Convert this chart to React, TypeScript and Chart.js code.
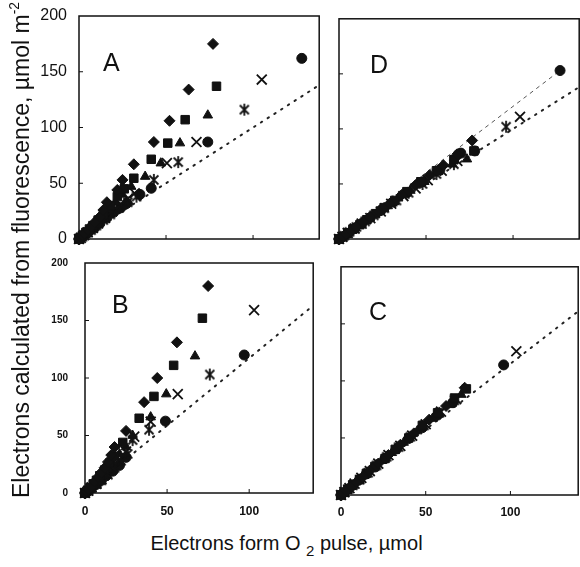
import React, { useEffect, useRef } from "react";
import { Chart, registerables } from "chart.js";
Chart.register(...registerables);

type P = [number, number];

// ---- tick values ----
const X_TICKS = [0, 50, 100];
const Y_TICKS = [0, 50, 100, 150, 200];

// ---- Panel A ----
const A_diamond: P[] = [[0,0],[1,1.5],[2,3],[3,5],[5,8],[7,11],[9,15],[12,20],[14,26],[16,33],[22,44],[25,53],[31.5,67],[43,87],[52,106],[63,134],[77,175]];
const A_square: P[] = [[0,0],[1,1.4],[2,3],[4,6],[6,9],[8,12],[11,17],[14,22],[18,30],[22,38],[26,45],[31.5,54.5],[41.5,71.5],[51,86],[61,107],[79,137]];
const A_triangle: P[] = [[0,0],[1,1.3],[3,4],[5,7],[7,10],[10,14],[13,19],[17,26],[21,33],[25,40],[30,47],[38,56],[47,68],[58,86],[74,111]];
const A_cross: P[] = [[0,0],[1,1],[3,3.5],[5,6],[8,10],[11,14],[15,19],[19,25],[24,31],[28,36],[32,41],[50.5,68],[67.5,87],[105,143]];
const A_star: P[] = [[0,0],[2,2],[4,5],[7,8],[10,12],[14,17],[18,22],[23,28],[28,33],[33,38],[43,53],[57,69],[95,116]];
const A_circle: P[] = [[0,0],[2,2],[4,4.5],[6,7],[9,10],[12,14],[16,19],[20,24],[24,28],[27.5,32],[35,40],[41.5,45.5],[74,87],[128,162]];
const A_ref: P[] = [[0,0],[138,138]];

// ---- Panel B ----
const B_diamond: P[] = [[0,0],[1,1.5],[2,3],[4,6],[6,10],[8,14],[10,18],[12,22],[14,27],[16,33],[18,40],[25,54],[36,79],[44,100],[56,131],[75,180]];
const B_square: P[] = [[0,0],[1,1.4],[3,4.5],[5,8],[7,11],[9,15],[12,20],[15,26],[18,32],[23,44],[33,65],[42,84],[54,111],[71.5,152]];
const B_triangle: P[] = [[0,0],[1,1.3],[3,4],[5,7],[8,11],[11,16],[14,21],[17,27],[21,34],[25,40],[29,50],[40,66],[49.5,86],[67,119]];
const B_cross: P[] = [[0,0],[2,2],[4,5],[7,8],[10,12],[13,17],[17,22],[21,29],[25,36],[30,49],[40,62],[56.5,86],[103,159]];
const B_star: P[] = [[0,0],[2,2],[4,4.5],[7,8],[10,11],[14,16],[18,22],[22,28],[26,34],[29,46],[39,55],[76,103]];
const B_circle: P[] = [[0,0],[2,2],[4,4],[7,7.5],[10,11],[13,15],[17,19],[21,24],[25,31],[49,62.5],[97,120]];
const B_ref: P[] = [[0,0],[139,163]];

// ---- Panel C ----
const C_diamond: P[] = [[0,0],[1,1.5],[3,4],[6,7.5],[9,11],[13,16],[17,21.5],[22,27.5],[28,35],[35,44],[43,54],[52,66],[62,78],[73,94]];
const C_square: P[] = [[0,0],[2,2.5],[4,5],[7,9],[11,13.5],[15,19],[20,25],[26,32],[32,40],[40,50],[48,61],[57,72],[67,85],[74,93]];
const C_triangle: P[] = [[0,0],[1,1.2],[3,3.8],[6,7.5],[10,12.5],[14,17.5],[19,23.5],[24,30],[30,37],[37,46],[45,56],[54,67],[64,79],[71,88]];
const C_cross: P[] = [[0,0],[2,2.5],[5,6],[8,10],[12,15],[17,21],[22,27.5],[28,35],[35,43],[42,52],[50,62],[59,73],[68,84],[103.5,126]];
const C_star: P[] = [[0,0],[2,2.4],[4,5],[7,8.5],[11,13.5],[16,19.5],[21,26],[27,33.5],[34,42],[41,51],[49,61],[58,72],[67,83]];
const C_circle: P[] = [[0,0],[1,1.3],[4,5],[7,8.5],[11,13.5],[15,18.5],[20,24.5],[26,32],[33,40.5],[40,49.5],[48,59],[57,70],[66,81],[96,114]];
const C_ref: P[] = [[0,0],[140,161]];

// ---- Panel D ----
const D_diamond: P[] = [[0,0],[2,2],[4,4.5],[7,7.5],[10,11],[14,15.5],[18,20],[23,25],[29,32],[36,40],[44,49],[52,58],[60,67],[68,77],[76.5,89.5]];
const D_square: P[] = [[0,0],[2,2],[5,5.5],[8,9],[12,13],[16,17.5],[21,23],[26,28.5],[32,35],[39,43],[47,52],[56,62],[66,72],[77.5,80]];
const D_triangle: P[] = [[0,0],[1,1],[3,3.5],[6,6.5],[9,10],[13,14],[17,18.5],[22,24],[28,30],[34,37],[41,44],[49,52],[57,61],[65,68],[73.5,72.5]];
const D_cross: P[] = [[0,0],[2,2],[5,5.5],[9,9.5],[13,14],[18,19],[24,25],[30,32],[37,39],[44,46],[51,53.5],[59,62],[68,71],[104,111]];
const D_star: P[] = [[0,0],[3,3],[6,6.5],[10,11],[15,16],[20,21.5],[26,28],[33,35],[40,42],[48,50],[56,59],[66,68],[96,102]];
const D_circle: P[] = [[0,0],[2,2],[5,5],[9,9.5],[13,14],[18,19.5],[24,26],[31,33.5],[39,42],[48,52],[58,63],[70,78],[78,80],[127,153]];
const D_ref: P[] = [[0,0],[138,138]];
const D_fit: P[] = [[0,0],[127,153]];

const INK = "#111";

function makeAsterisk(): HTMLCanvasElement {
  const c = document.createElement("canvas");
  c.width = 14; c.height = 14;
  const g = c.getContext("2d")!;
  g.strokeStyle = INK; g.lineWidth = 1.8;
  g.beginPath();
  g.moveTo(2.5, 2.5); g.lineTo(11.5, 11.5);
  g.moveTo(11.5, 2.5); g.lineTo(2.5, 11.5);
  g.moveTo(7, 1); g.lineTo(7, 13);
  g.stroke();
  return c;
}

const framePlugin = {
  id: "frame",
  beforeDatasetsDraw(chart: any) {
    const { ctx, chartArea: a, scales } = chart;
    ctx.save();
    ctx.strokeStyle = INK;
    ctx.lineWidth = 1.5;
    ctx.strokeRect(a.left, a.top, a.right - a.left, a.bottom - a.top);
    ctx.lineWidth = 1;
    ctx.beginPath();
    X_TICKS.slice(1).forEach((v) => {
      const px = scales.x.getPixelForValue(v);
      ctx.moveTo(px, a.bottom); ctx.lineTo(px, a.bottom - 4);
    });
    Y_TICKS.slice(1, -1).forEach((v) => {
      const py = scales.y.getPixelForValue(v);
      ctx.moveTo(a.left, py); ctx.lineTo(a.left + 4, py);
    });
    ctx.stroke();
    ctx.restore();
  },
};

interface Panel {
  L: number; T: number; R: number; B: number; xMax: number;
  showX: boolean; showY: boolean;
  xFont: any; yFont: any; xPad: number; yPad: number;
  yW: number; xH: number; padT: number;
  s: P[][]; refLine: P[]; fitLine?: P[];
}

const PAD_R = 4;

const PANELS: Panel[] = [
  { L: 79, T: 16, R: 324, B: 239, xMax: 138, showX: false, showY: true,
    xFont: { size: 12, weight: "bold" }, yFont: { size: 16 }, xPad: 11, yPad: 12, yW: 70, xH: 14, padT: 12,
    s: [A_diamond, A_square, A_triangle, A_cross, A_star, A_circle], refLine: A_ref },
  { L: 85, T: 263, R: 318, B: 493, xMax: 139, showX: true, showY: true,
    xFont: { size: 12, weight: "bold" }, yFont: { size: 10, weight: "bold" }, xPad: 11, yPad: 17, yW: 60, xH: 34, padT: 10,
    s: [B_diamond, B_square, B_triangle, B_cross, B_star, B_circle], refLine: B_ref },
  { L: 341, T: 264, R: 583, B: 495, xMax: 140, showX: true, showY: false,
    xFont: { size: 12, weight: "bold" }, yFont: { size: 10 }, xPad: 10, yPad: 10, yW: 14, xH: 34, padT: 6,
    s: [C_diamond, C_square, C_triangle, C_cross, C_star, C_circle], refLine: C_ref },
  { L: 339, T: 16, R: 584, B: 239, xMax: 138, showX: false, showY: false,
    xFont: { size: 12 }, yFont: { size: 10 }, xPad: 10, yPad: 10, yW: 14, xH: 14, padT: 6,
    s: [D_diamond, D_square, D_triangle, D_cross, D_star, D_circle], refLine: D_ref, fitLine: D_fit },
];

function zeroPad(s: any) {
  s.paddingTop = 0; s.paddingBottom = 0; s.paddingLeft = 0; s.paddingRight = 0;
}

function PanelChart({ p }: { p: Panel }) {
  const ref = useRef<HTMLCanvasElement>(null);
  const w = p.yW + (p.R - p.L) + PAD_R;
  const h = p.padT + (p.B - p.T) + p.xH;
  useEffect(() => {
    const star = makeAsterisk();
    const toXY = (arr: P[]) => arr.map(([x, y]) => ({ x, y }));
    const styles: any[] = [
      { pointStyle: "rectRot", pointRadius: 5.5, borderWidth: 1 },
      { pointStyle: "rect", pointRadius: 6, borderWidth: 1 },
      { pointStyle: "triangle", pointRadius: 5.5, borderWidth: 1 },
      { pointStyle: "crossRot", pointRadius: 7, borderWidth: 1.8 },
      { pointStyle: star, pointRadius: 7, borderWidth: 1 },
      { pointStyle: "circle", pointRadius: 5, borderWidth: 1 },
    ];
    const datasets: any[] = p.s.map((arr, i) => ({
      type: "scatter",
      data: toXY(arr),
      backgroundColor: INK,
      borderColor: INK,
      showLine: false,
      clip: false,
      order: 1,
      ...styles[i],
    }));
    datasets.push({
      type: "scatter", data: toXY(p.refLine), showLine: true, pointRadius: 0,
      borderColor: "#222", borderWidth: 2, borderDash: [1.5, 6.5], borderCapStyle: "round",
      clip: false, order: 10,
    });
    if (p.fitLine) {
      datasets.push({
        type: "scatter", data: toXY(p.fitLine), showLine: true, pointRadius: 0,
        borderColor: "#555", borderWidth: 1, borderDash: [4, 4], clip: false, order: 11,
      });
    }
    const chart = new Chart(ref.current!, {
      type: "scatter",
      data: { datasets },
      plugins: [framePlugin],
      options: {
        animation: false,
        responsive: false,
        devicePixelRatio: 1,
        layout: { padding: { top: p.padT, right: PAD_R, left: 0, bottom: 0 } },
        plugins: { legend: { display: false }, tooltip: { enabled: false } },
        events: [],
        scales: {
          x: {
            type: "linear", min: 0, max: p.xMax,
            grid: { display: false, drawTicks: false },
            border: { display: false },
            afterBuildTicks: (s: any) => { s.ticks = X_TICKS.map((v) => ({ value: v })); },
            afterFit: (s: any) => { s.height = p.xH; zeroPad(s); },
            ticks: {
              display: p.showX, padding: p.xPad, color: INK, maxRotation: 0, autoSkip: false,
              font: { family: '"Liberation Sans", Arial, sans-serif', ...p.xFont },
            },
          },
          y: {
            type: "linear", min: 0, max: 200,
            grid: { display: false, drawTicks: false },
            border: { display: false },
            afterBuildTicks: (s: any) => { s.ticks = Y_TICKS.map((v) => ({ value: v })); },
            afterFit: (s: any) => { s.width = p.yW; zeroPad(s); },
            ticks: {
              display: p.showY, padding: p.yPad, color: INK, autoSkip: false,
              font: { family: '"Liberation Sans", Arial, sans-serif', ...p.yFont },
            },
          },
        },
      } as any,
    });
    return () => chart.destroy();
  }, []);
  return (
    <canvas
      ref={ref}
      width={w}
      height={h}
      style={{ position: "absolute", left: p.L - p.yW, top: p.T - p.padT, width: w, height: h }}
    />
  );
}

const LETTERS = [
  { t: "A", x: 103, y: 50 },
  { t: "D", x: 370, y: 52 },
  { t: "B", x: 112, y: 292 },
  { t: "C", x: 369, y: 299 },
];

export default function App() {
  const font = '"Liberation Sans", Arial, sans-serif';
  return (
    <div style={{ position: "fixed", left: 0, top: 0, width: 580, height: 567, overflow: "hidden", background: "#fff", fontFamily: font, color: INK }}>
      {PANELS.map((p, i) => <PanelChart key={i} p={p} />)}
      {LETTERS.map((l) => (
        <div key={l.t} style={{ position: "absolute", left: l.x, top: l.y, fontSize: 25, lineHeight: "25px" }}>{l.t}</div>
      ))}
      <div style={{ position: "absolute", left: 20.7 - 270, top: 250 - 15, width: 540, height: 30, lineHeight: "30px", fontSize: 23, textAlign: "center", whiteSpace: "nowrap", transform: "rotate(-90deg)" }}>
        Electrons calculated from fluorescence, µmol m<span style={{ fontSize: "0.6em", position: "relative", top: "-0.7em" }}>-2</span>
      </div>
      <div style={{ position: "absolute", left: 86.5, top: 531.4, width: 400, height: 26, lineHeight: "24px", fontSize: 20, textAlign: "center", whiteSpace: "nowrap" }}>
        Electrons form O <span style={{ fontSize: "0.75em", position: "relative", top: "0.35em" }}>2</span> pulse, µmol
      </div>
    </div>
  );
}
